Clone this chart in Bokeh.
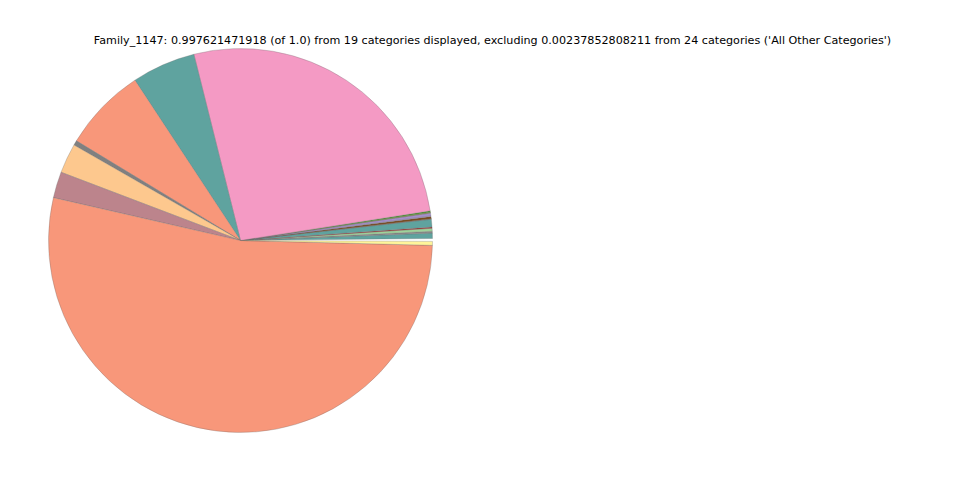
import numpy as np
from bokeh.plotting import figure
from bokeh.models import ColumnDataSource, Label
from bokeh.embed import file_html
from bokeh.resources import INLINE

# slices in counter-clockwise order starting just above 3 o'clock
categories = ["c01", "c02", "c03", "c04", "c05", "c06", "c07", "c08", "c09", "c10",
              "c11", "c12", "c13", "c14", "c15", "c16", "c17", "c18", "c19"]
fractions = [0.0045, 0.0015, 0.0025, 0.0010, 0.0065, 0.0005, 0.0018, 0.0005, 0.0024, 0.0006,
             0.0012, 0.2644, 0.0536, 0.0705, 0.0040, 0.0250, 0.0220, 0.5318, 0.0033]
colors = ["#5fa39f", "#8c8c8c", "#9fd39a", "#a8322e", "#5fa39f", "#6b6b6b", "#7b4a1c", "#c8b4e0", "#a58fcc", "#8a8a3a",
          "#4f9a2e", "#f49ac4", "#5fa39f", "#f8977a", "#808080", "#fdc88e", "#bc848c", "#f8977a", "#fff59a"]
title_text = ("Family_1147: 0.997621471918 (of 1.0) from 19 categories displayed, "
              "excluding 0.00237852808211 from 24 categories ('All Other Categories')")

start_offset = np.deg2rad(0.6)
fr = np.array(fractions)
ends = start_offset + np.cumsum(fr) * 2 * np.pi
starts = ends - fr * 2 * np.pi

src = ColumnDataSource(dict(cat=categories, start=starts, end=ends, color=colors))

W, H = 944, 464
p = figure(width=W, height=H, x_range=(0, W), y_range=(0, H), output_backend="svg",
           toolbar_location=None, min_border=0)
p.axis.visible = False
p.grid.visible = False
p.outline_line_color = None

p.wedge(x=240, y=H - 240, radius=192, start_angle="start", end_angle="end",
        fill_color="color", line_color="#6e6e6e", line_width=0.3, source=src)

p.add_layout(Label(x=492, y=H - 40, x_units="screen", y_units="screen", text=title_text,
                   text_align="center", text_baseline="middle", text_font_size="11.15px",
                   text_font="DejaVu Sans", text_color="#000000"))

open("out.html", "w").write(file_html(p, INLINE))
